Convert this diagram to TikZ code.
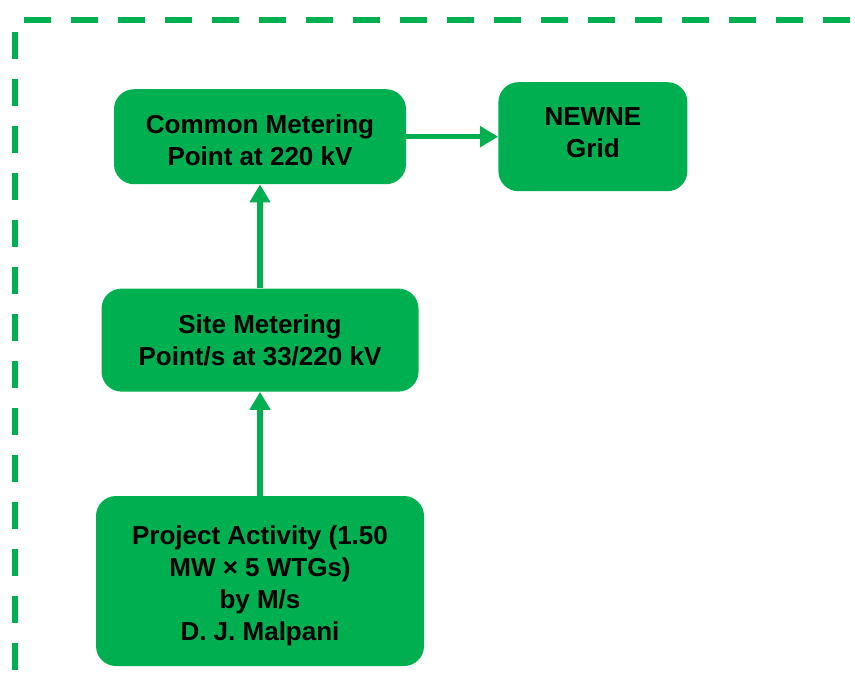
\documentclass[tikz,border=0pt]{standalone}
\usepackage{fontspec}
\setmainfont{Liberation Sans}
\usepackage{tikz}
\usetikzlibrary{arrows.meta,positioning}
\definecolor{flowgreen}{HTML}{00B050}
% shift box text down without changing the box
\newcommand{\lowtext}[2]{\raisebox{-#1}[\height][\depth]{\begin{tabular}{@{}c@{}}#2\end{tabular}}}

\begin{document}
\begin{tikzpicture}[
  x=1pt, y=-1pt,
  box/.style={draw=none, rounded corners=20pt, fill=flowgreen, align=center, font=\fontsize{26}{32}\selectfont\bfseries, inner sep=0pt},
  arr/.style={-{Triangle[length=18pt, width=20pt]}, line width=5.5pt, draw=flowgreen},
  border/.style={draw=flowgreen, line width=6.5pt, dash pattern=on 27pt off 20pt}
]
\useasboundingbox (0,0) rectangle (855,686);
% outer dashed frame (runs off the page to the right and bottom)
\draw[border, dash phase=38pt] (15,20) -- (900,20);
\draw[border, dash phase=35pt] (15,20) -- (15,720);
\draw[border, dash phase=38pt] (15,689) -- (900,689);
% boxes
\node[box, minimum width=328pt, minimum height=170pt] (project) at (260,581) {\lowtext{5pt}{Project Activity (1.50\\MW × 5 WTGs)\\by M/s\\D. J. Malpani}};
\node[box, minimum width=317pt, minimum height=103pt, above=104pt of project] (site) {Site Metering\\Point/s at 33/220 kV};
\node[box, minimum width=292pt, minimum height=95pt, above=104pt of site] (common) {\lowtext{6pt}{Common Metering\\Point at 220 kV}};
\node[box, minimum width=189pt, minimum height=109pt, right=92pt of common] (grid) {\lowtext{-2pt}{NEWNE\\Grid}};
% flow
\draw[arr] (project) -- (site);
\draw[arr] (site) -- (common);
\draw[arr] (common) -- (grid);
\end{tikzpicture}
\end{document}
